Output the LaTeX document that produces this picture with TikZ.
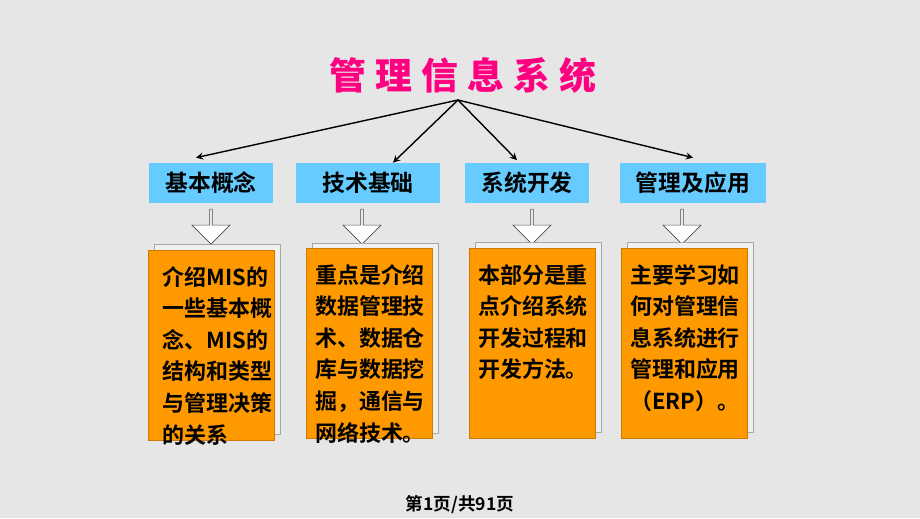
\documentclass[tikz,border=0pt]{standalone}
\usepackage{fontspec}
\newfontfamily\cjk{Noto Sans CJK SC Bold}
\newfontfamily\cjktitle[LetterSpace=25]{Noto Sans CJK SC Black}
\usetikzlibrary{positioning,shapes.arrows}
\definecolor{bgcol}{HTML}{E6E6E6}
\definecolor{topcol}{HTML}{66CCFF}
\definecolor{bodycol}{HTML}{FF9900}
\definecolor{titlecol}{HTML}{FF0080}
\tikzset{
  topic/.style={fill=topcol, minimum width=#1, minimum height=0.8cm, font=\cjk\fontsize{13}{15}\selectfont},
  body/.style={fill=bodycol, draw=bodycol!80!black, minimum width=2.52cm, minimum height=3.8cm, anchor=north west},
  bodytext/.style={anchor=north west, align=left, inner sep=0pt, font=\cjk\fontsize{12.5}{18}\selectfont},
  page/.style={draw=gray!70, fill=bgcol!60!white, minimum width=2.52cm, minimum height=3.8cm, anchor=north west},
  down/.style={single arrow, draw=gray!60!black, fill=white, shape border rotate=270, minimum height=0.7cm, minimum width=0.76cm, single arrow head extend=0.1cm, inner sep=0pt},
  branch/.style={-stealth, thick}
}
\begin{document}
\begin{tikzpicture}[x=0.02cm,y=-0.02cm]
\fill[bgcol] (0,0) rectangle (920,518);
\useasboundingbox (0,0) rectangle (920,518);

\node (title) [text=titlecol, font=\cjktitle\fontsize{21}{24}\selectfont] at (463,75) {管理信息系统};
\coordinate (hub) at (458,100);

\node (t1) [topic=2.5cm] at (211,183) {基本概念};
\node (t2) [topic=2.9cm] at (368,183) {技术基础};
\node (t3) [topic=2.48cm] at (527,183) {系统开发};
\node (t4) [topic=2.92cm] at (693,183) {管理及应用};

\draw[branch] (hub) -- ([xshift=-0.3cm,yshift=0.1cm]t1.north);
\draw[branch] (hub) -- ([xshift=0.5cm]t2.north);
\draw[branch] (hub) -- ([xshift=-0.2cm,yshift=0.05cm]t3.north);
\draw[branch] (hub) -- ([yshift=0.1cm]t4.north);

% hollow arrows
\node (a1) [down] at (211,226) {};
\node (a2) [down] at (362,226) {};
\node (a3) [down] at (532,226) {};
\node (a4) [down] at (682,226) {};

% pages behind
\node (p1) [page] at (154,244) {};
\node (p2) [page] at (312,243) {};
\node (p3) [page] at (475,242) {};
\node (p4) [page] at (627,242) {};

\node (b1) [body] at (148,250) {};
\node (b2) [body] at (306,248) {};
\node (b3) [body] at (469,248) {};
\node (b4) [body] at (621,248) {};

\node (x1) [bodytext] at ([xshift=8pt,yshift=-9pt]b1.north west) {介绍MIS的\\一些基本概\\念、MIS的\\结构和类型\\与管理决策\\的关系};
\node (x2) [bodytext] at ([xshift=5pt,yshift=-9pt]b2.north west) {重点是介绍\\数据管理技\\术、数据仓\\库与数据挖\\掘，通信与\\网络技术。};
\node (x3) [bodytext] at ([xshift=5pt,yshift=-9pt]b3.north west) {本部分是重\\点介绍系统\\开发过程和\\开发方法。};
\node (x4) [bodytext] at ([xshift=5pt,yshift=-9pt]b4.north west) {主要学习如\\何对管理信\\息系统进行\\管理和应用\\（ERP）。};

\node (foot) [font=\cjk\fontsize{10}{12}\selectfont] at (460,505) {第1页/共91页};
\end{tikzpicture}
\end{document}
